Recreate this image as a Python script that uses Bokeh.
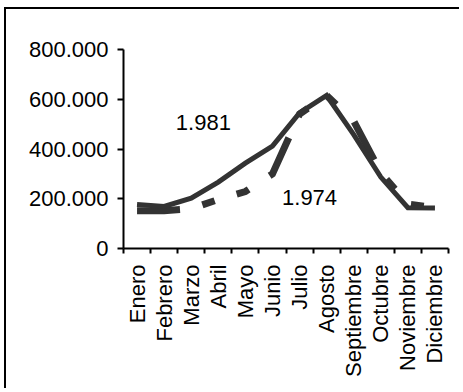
import numpy as np
from bokeh.plotting import figure
from bokeh.models import Range1d, FixedTicker, ColumnDataSource
from bokeh.core.properties import value
from bokeh.embed import file_html
from bokeh.resources import INLINE

months = ["Enero", "Febrero", "Marzo", "Abril", "Mayo", "Junio", "Julio",
          "Agosto", "Septiembre", "Octubre", "Noviembre", "Diciembre"]
serie_1981 = [177000, 169000, 202000, 267000, 343000, 412000, 545000,
              615000, 458000, 287000, 164000, 163000]
serie_1974 = [152000, 152000, 160000, 197000, 229000, 300000, 540000,
              615000, 512000, 305000, 178000, 165000]
y_ticks = [0, 200000, 400000, 600000, 800000]
y_tick_labels = ["0", "200.000", "400.000", "600.000", "800.000"]
series_labels = ["1.981", "1.974"]
label_x = [2.95, 6.87]
label_y = [506000, 205000]

FONT = "Liberation Sans"
x = np.arange(len(months)) + 0.5

p = figure(width=455, height=381, output_backend="svg", toolbar_location=None,
           x_range=Range1d(0, len(months)), y_range=Range1d(0, 800000),
           min_border_left=117, min_border_right=13,
           min_border_top=40, min_border_bottom=142)
p.margin = (7, 0, 0, 4)
p.outline_line_color = None
p.xgrid.visible = False
p.ygrid.visible = False
p.background_fill_color = "white"
p.border_fill_color = "white"
p.styles = {"border-top": "2px solid black", "border-left": "2px solid black"}

p.line(x, serie_1974, line_color="#333333", line_width=7,
       line_dash="43 23 13 23 13 25", line_cap="butt", line_join="miter")
p.line(x, serie_1981, line_color="#333333", line_width=5, line_join="miter")

src = ColumnDataSource(dict(x=label_x, y=label_y, t=series_labels))
p.text(x="x", y="y", text="t", source=src, text_font=value(FONT),
       text_font_size="22px", text_color="black", text_align="center",
       text_baseline="middle")

ya = p.yaxis[0]
ya.ticker = FixedTicker(ticks=y_ticks)
ya.major_label_overrides = {t: l for t, l in zip(y_ticks, y_tick_labels)}
ya.axis_line_width = 2
ya.major_tick_line_width = 2
ya.major_tick_out = 6
ya.major_tick_in = 0
ya.minor_tick_line_color = None
ya.major_label_standoff = 9
ya.major_label_text_font = FONT
ya.major_label_text_font_size = "22px"
ya.major_label_text_color = "black"

xa = p.xaxis[0]
xa.ticker = FixedTicker(ticks=list(x), minor_ticks=list(range(len(months) + 1)))
xa.major_label_overrides = {float(v): m for v, m in zip(x, months)}
xa.major_label_orientation = np.pi / 2
xa.axis_line_width = 2
xa.major_tick_line_color = None
xa.minor_tick_line_width = 2
xa.minor_tick_line_color = "black"
xa.minor_tick_out = 5
xa.minor_tick_in = 0
xa.major_label_standoff = 10
xa.major_label_text_font = FONT
xa.major_label_text_font_size = "22px"
xa.major_label_text_color = "black"

open("out.html", "w").write(file_html(p, INLINE))
